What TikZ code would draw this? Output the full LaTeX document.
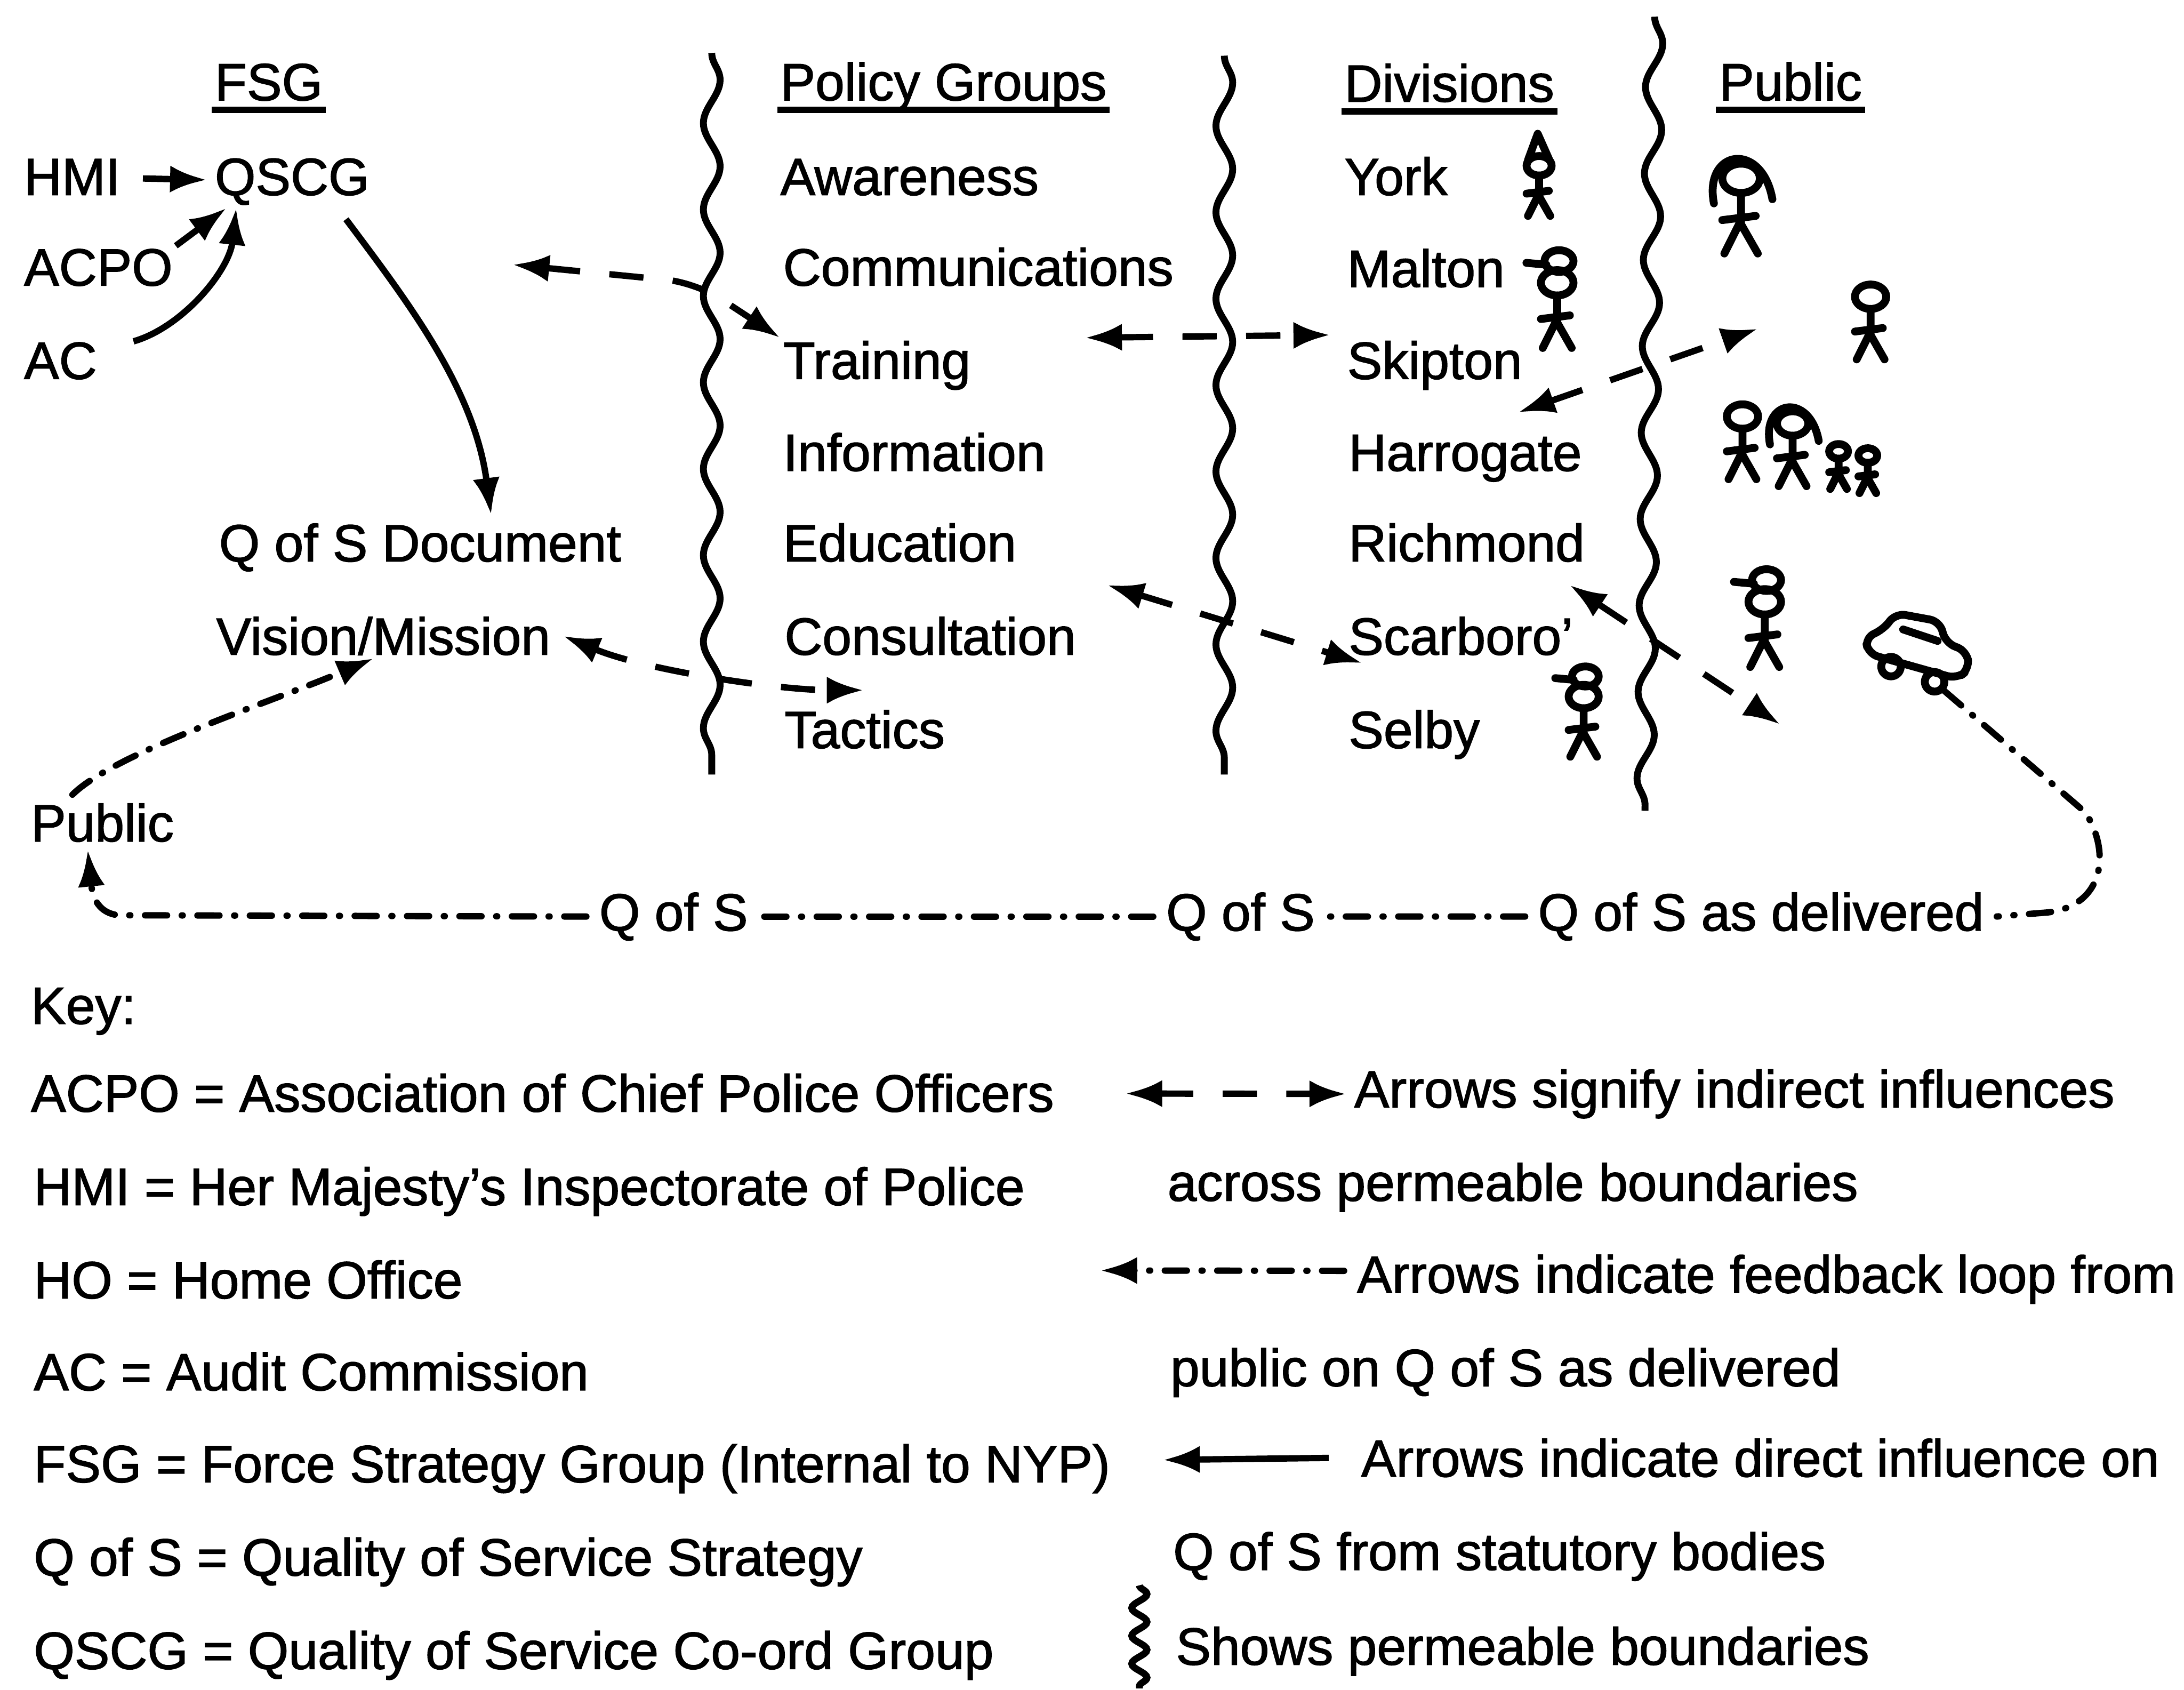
\documentclass[tikz,border=0pt]{standalone}
\usepackage{fontspec}
\setmainfont{Liberation Sans}[FakeBold=1.5]
\usetikzlibrary{arrows.meta, positioning, decorations.pathmorphing}

% basic stick figure, head at the origin
\newcommand{\stickman}{%
  \draw[figure] (0,0) ellipse (9 and 7);
  \draw[figure] (0,7) -- (0,22) (-9,20) -- (7,18) (-1,22) -- (-8,36) (0,22) -- (8,36);
}

\tikzset{
  figure/.style={line width=1.6pt, line cap=round, line join=round},
  pics/person/.style={code={\stickman}},
  pics/officer/.style={code={
    \stickman
    \draw[figure] (-8,-4) -- (-1,-23) -- (7,-5);
  }},
  pics/capped/.style={code={
    \stickman
    \draw[figure] (1,-12) ellipse (8 and 6) (-17,-11) -- (-6,-10);
  }},
  pics/longhair/.style={code={
    \stickman
    \draw[figure] (-13,12) .. controls (-18,-14) and (10,-18) .. (15,10);
  }},
  pics/car/.style={code={
    \draw[figure, rounded corners=2pt] (-34,15) -- (-39,4) -- (-28,-4) -- (-22,-18)
      -- (10,-20) -- (18,-6) -- (34,-4) -- (39,8) -- (32,17) -- cycle;
    \draw[figure] (-14,-8) -- (12,-6);
    \draw[figure] (-16,20) circle (7) (17,23) circle (7);
  }}
}

\begin{document}
\begin{tikzpicture}[
    x=0.01cm, y=-0.01cm,
    line width=1.3pt,
    lbl/.style={anchor=base west, inner sep=0pt, font=\fontsize{10.7}{12.8}\selectfont},
    uline/.style={line width=1.3pt},
    boundary/.style={line width=1.4pt, decorate, decoration={snake, segment length=0.62cm, amplitude=0.06cm}},
    arr/.style={-{Latex[length=7.5pt, width=5.5pt]}},
    direct/.style={arr},
    indirect/.style={{Latex[length=7.5pt, width=5.5pt]}-{Latex[length=7.5pt, width=5.5pt]}, dash pattern=on 7pt off 6pt},
    feedback/.style={dash pattern=on 4.5pt off 3pt on 0.2pt off 3pt, line cap=round}
]
\useasboundingbox (0,0) rectangle (1568,1213);

% column headings
\node[lbl] (fsg) at (152,72) {FSG};
\node[lbl] (pg) at (558,72) {Policy Groups};
\node[lbl] (div) at (963,73) {Divisions};
\node[lbl] (pub) at (1232,72) {Public};
\foreach \n in {fsg,pg,div,pub}
  \draw[uline] ([yshift=-2pt]\n.base west) -- ([yshift=-2pt]\n.base east);

% FSG column
\node[lbl] (hmi) at (15,140) {HMI};
\node[lbl] (qscg) at (152,140) {QSCG};
\node[lbl] (acpo) at (15,205) {ACPO};
\node[lbl] (ac) at (15,272) {AC};
\node[lbl] (qsdoc) at (155,403) {Q of S Document};
\node[lbl] (vision) at (153,470) {Vision/Mission};

% policy groups
\node[lbl] (aware) at (558,140) {Awareness};
\node[lbl] (comms) at (560,205) {Communications};
\node[lbl] (training) at (560,272) {Training};
\node[lbl] (info) at (560,338) {Information};
\node[lbl] (education) at (560,403) {Education};
\node[lbl] (consult) at (561,470) {Consultation};
\node[lbl] (tactics) at (561,537) {Tactics};

% divisions
\node[lbl] (york) at (963,140) {York};
\node[lbl] (malton) at (965,206) {Malton};
\node[lbl] (skipton) at (965,272) {Skipton};
\node[lbl] (harrogate) at (966,338) {Harrogate};
\node[lbl] (richmond) at (966,403) {Richmond};
\node[lbl] (scarboro) at (966,470) {Scarboro'};
\node[lbl] (selby) at (966,537) {Selby};

% feedback labels
\node[lbl] (public) at (20,604) {Public};
\node[lbl] (qos1) at (428,668) {Q of S};
\node[lbl] (qos2) at (835,668) {Q of S};
\node[lbl] (delivered) at (1102,668) {Q of S as delivered};

% permeable boundaries
\draw[boundary] (511,38) -- (511,556);
\draw[boundary] (879,40) -- (879,556);
\draw[boundary] (1188,12) -- (1181,582);

% people
\pic at (1105,119) {officer};
\pic[scale=1.3] at (1118,203) {capped};
\pic[scale=1.2] at (1137,500) {capped};
\pic[scale=1.5] at (1250,128) {longhair};
\pic[scale=1.25] at (1343,213) {person};
\pic[scale=1.25] at (1251,299) {person};
\pic[scale=1.25] at (1287,304) {longhair};
\pic[scale=0.75] at (1320,324) {person};
\pic[scale=0.75] at (1341,327) {person};
\pic[scale=1.3] at (1267,432) {capped};
\pic[rotate=-14] at (1378,463) {car};
\coordinate (car) at (1396,496);

% direct influences
\draw[direct, shorten <=4pt, shorten >=1pt] (hmi) -- (qscg);
\draw[direct] (acpo.north east) -- ([xshift=3pt]qscg.south west);
\draw[direct] ([shift={(24,-14)}]ac.east) .. controls +(35,-10) and +(-5,45) .. ([xshift=5pt]qscg.south west);
\draw[direct] ([shift={(-19,8)}]qscg.south east) .. controls +(45,60) and +(-12,-90) .. ([shift={(51,-4)}]qsdoc.north);

% indirect influences
\coordinate (fsgin) at (368,190);
\coordinate (pubin) at (1262,236);
\coordinate (pubout) at (1278,520);
\draw[indirect, rounded corners=6pt] (fsgin) -- (500,203) -- (training.north west);
\draw[indirect] ([shift={(80,0)}]training.north east) -- ([shift={(-10,-2)}]skipton.north west);
\draw[indirect] ([shift={(-5,24)}]skipton.base east) -- (pubin);
\draw[indirect] ([shift={(-13,17)}]richmond.base east) -- (pubout);
\draw[indirect] ([shift={(63,17)}]education.base east) -- ([shift={(12,6)}]scarboro.base west);
\draw[indirect] ([xshift=2pt]vision.east) .. controls +(60,25) and +(-60,0) .. ([shift={(59,-12)}]tactics.north west);

% feedback loop
\draw[feedback] (car) -- (1497,583) .. controls (1515,610) and (1512,650) .. (1470,655) -- ([xshift=2pt]delivered.east);
\draw[feedback] ([xshift=-2pt]delivered.west) -- ([xshift=2pt]qos2.east);
\draw[feedback] ([xshift=-2pt]qos2.west) -- ([xshift=2pt]qos1.east);
\draw[feedback, arr] ([xshift=-2pt]qos1.west) -- (85,657) .. controls (68,655) and (66,640) .. ([shift={(43,6)}]public.base west);
\draw[feedback, arr] ([shift={(32,-4)}]public.north west) .. controls +(30,-30) and +(-70,30) .. ([xshift=-2pt]vision.south);

% key
\node[lbl] (key) at (20,735) {Key:};
\node[lbl] (kacpo) at (20,798) {ACPO = Association of Chief Police Officers};
\node[lbl] (khmi) at (22,865) {HMI = Her Majesty's Inspectorate of Police};
\node[lbl] (kho) at (22,932) {HO = Home Office};
\node[lbl] (kac) at (22,998) {AC = Audit Commission};
\node[lbl] (kfsg) at (22,1064) {FSG = Force Strategy Group (Internal to NYP)};
\node[lbl] (kqos) at (22,1131) {Q of S = Quality of Service Strategy};
\node[lbl] (kqscg) at (22,1198) {QSCG = Quality of Service Co-ord Group};

\node[lbl] (kind) at (970,795) {Arrows signify indirect influences};
\node[lbl] (kind2) at (836,862) {across permeable boundaries};
\node[lbl] (kfb) at (972,928) {Arrows indicate feedback loop from};
\node[lbl] (kfb2) at (838,995) {public on Q of S as delivered};
\node[lbl] (kdir) at (975,1060) {Arrows indicate direct influence on};
\node[lbl] (kdir2) at (840,1127) {Q of S from statutory bodies};
\node[lbl] (kwave) at (842,1195) {Shows permeable boundaries};

\coordinate (kindl) at (808,785);
\coordinate (kfbl) at (790,912);
\coordinate (kdirl) at (835,1048);
\draw[indirect] (kindl) -- ([xshift=-1pt]kind.west);
\draw[feedback, arr] ([shift={(-7,-6)}]kfb.west) -- (kfbl);
\draw[direct] ([xshift=-6pt]kdir.west) -- (kdirl);
\draw[line width=1.4pt, decorate, decoration={snake, segment length=0.2cm, amplitude=0.055cm}] (818,1138) -- (818,1212);
\end{tikzpicture}
\end{document}
